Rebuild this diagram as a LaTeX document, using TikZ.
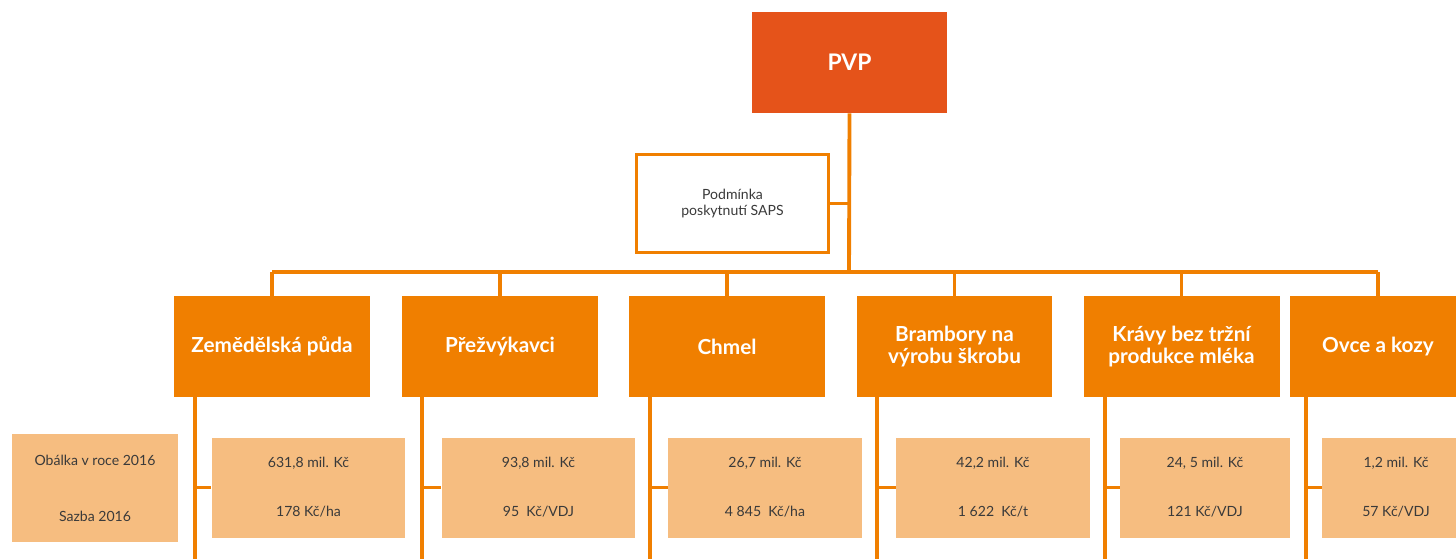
\documentclass[tikz,border=0pt]{standalone}
\usepackage{fontspec}
\setmainfont{Lato}
\definecolor{pvpred}{HTML}{E5531A}
\definecolor{headorange}{HTML}{F07F00}
\definecolor{valorange}{HTML}{F6BD80}
\definecolor{txtgray}{HTML}{3A3A3A}
\tikzset{
  pvpbox/.style={fill=pvpred, text=white, font=\fontsize{13}{15}\selectfont\bfseries,
    minimum width=3.9cm, minimum height=2.02cm, inner sep=0pt},
  condbox/.style={draw=headorange, line width=1.7pt, fill=white, text=txtgray,
    font=\fontsize{8}{9.5}\selectfont, align=center,
    minimum width=3.84cm, minimum height=1.96cm, inner sep=0pt},
  headbox/.style={fill=headorange, text=white, font=\fontsize{11.8}{12.8}\selectfont\bfseries,
    align=center, minimum width=3.92cm, minimum height=2.02cm, inner sep=0pt},
  valbox/.style={fill=valorange, text=txtgray, font=\fontsize{8}{10}\selectfont,
    align=center, minimum width=3.88cm, minimum height=2cm, inner sep=0pt},
  link/.style={draw=headorange, line width=2.2pt}
}
\begin{document}
\begin{tikzpicture}[x=0.02cm, y=-0.02cm]
  \useasboundingbox (0,0) rectangle (1456,558);
  \clip (0,0) rectangle (1456,558);
  % top
  \node[pvpbox] (pvp) at (849.5,62.5) {PVP};
  \node[condbox] (cond) at (732.5,203.5) {Podmínka\\poskytnutí SAPS};
  \coordinate (bar) at (849,272);
  % categories
  \node[headbox] (h1) at (272,346.5) {Zemědělská půda};
  \node[headbox] (h2) at (500,346.5) {Přežvýkavci};
  \node[headbox] (h3) at (727,346.5) {Chmel};
  \node[headbox] (h4) at (954.5,346.5) {Brambory na\\výrobu škrobu};
  \node[headbox] (h5) at (1181.5,346.5) {Krávy bez tržní\\produkce mléka};
  \node[headbox, minimum width=3.52cm] (h6) at (1378,346.5) {Ovce a kozy};
  % values
  \node[valbox, minimum width=3.32cm, minimum height=2.16cm] (leg) at (95,488)
    {Obálka v roce 2016\\[22pt]Sazba 2016};
  \node[valbox] (v1) at (308.5,487.5) {631,8 mil. Kč\\[18pt]178 Kč/ha};
  \node[valbox] (v2) at (538.5,487.5) {93,8 mil. Kč\\[18pt]95~ Kč/VDJ};
  \node[valbox] (v3) at (765,487.5) {26,7 mil. Kč\\[18pt]4 845~ Kč/ha};
  \node[valbox] (v4) at (993,487.5) {42,2 mil. Kč\\[18pt]1 622~ Kč/t};
  \node[valbox, minimum width=3.4cm] (v5) at (1205,487.5) {24, 5 mil. Kč\\[18pt]121 Kč/VDJ};
  \node[valbox, minimum width=2.96cm] (v6) at (1396,487.5) {1,2 mil. Kč\\[18pt]57 Kč/VDJ};
  % stem ends
  \coordinate (e1) at (195,560);
  \coordinate (e2) at (422,560);
  \coordinate (e3) at (650,560);
  \coordinate (e4) at (877,560);
  \coordinate (e5) at (1105,560);
  \coordinate (e6) at (1306,560);
  \begin{scope}[link]
    \draw (pvp.south) -- (bar);
    \draw (cond.east) -- (cond.east -| bar);
    \draw (h1.north |- bar) -- (h6.north |- bar);
    \foreach \i in {1,...,6} {
      \draw (h\i.north) -- (h\i.north |- bar);
      \draw (e\i |- h\i.south) -- (e\i);
      \draw (v\i.west) -- (v\i.west -| e\i);
    }
  \end{scope}
\end{tikzpicture}
\end{document}
